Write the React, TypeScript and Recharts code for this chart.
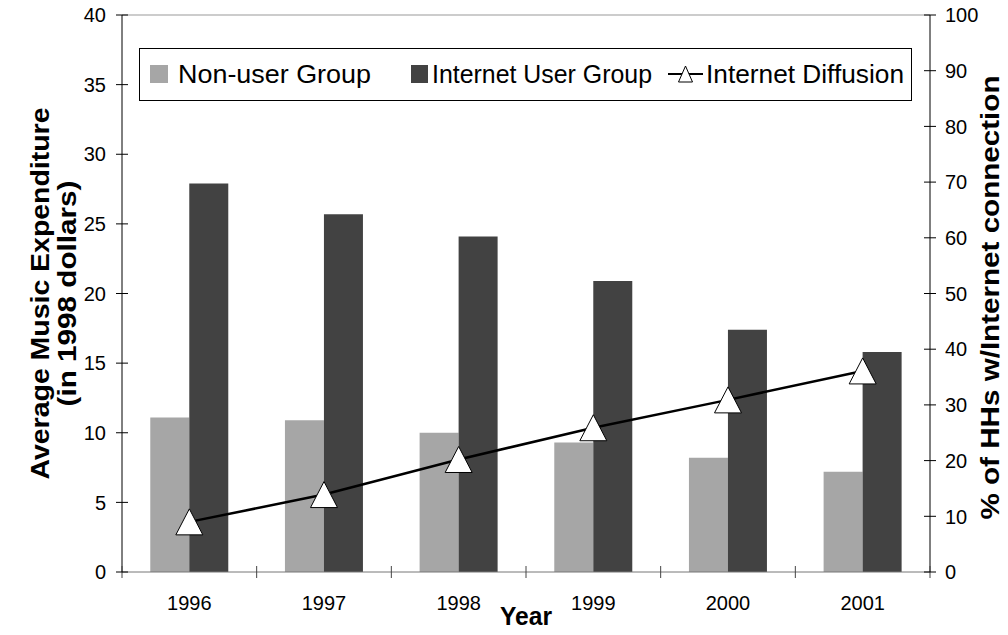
import { ComposedChart, Bar, Line, XAxis, YAxis, Legend, ReferenceLine } from 'recharts';

// values
const years = ['1996', '1997', '1998', '1999', '2000', '2001'];
const nonUserGroup = [11.1, 10.9, 10.0, 9.3, 8.2, 7.2];
const internetUserGroup = [27.9, 25.7, 24.1, 20.9, 17.4, 15.8];
const internetDiffusion = [9.0, 13.9, 20.2, 25.9, 30.9, 36.1];
const leftTicks = [0, 5, 10, 15, 20, 25, 30, 35, 40];
const rightTicks = [0, 10, 20, 30, 40, 50, 60, 70, 80, 90, 100];

const data = years.map((year, i) => ({
  year,
  nonUser: nonUserGroup[i],
  user: internetUserGroup[i],
  diffusion: internetDiffusion[i],
}));

const FONT = '"Liberation Sans", Arial, sans-serif';
const LIGHT = '#a6a6a6';
const DARK = '#424242';

const W = 1008;
const H = 635;
const MARGIN = { top: 15, right: 18, bottom: 33, left: 62 };
const Y_AXIS_W = 60;
const PLOT_W = W - MARGIN.left - MARGIN.right - 2 * Y_AXIS_W;
const BAND = PLOT_W / years.length;

const makeYTick = (side: 'left' | 'right') => (props: any) => {
  const { x, y, payload } = props;
  const ax = side === 'left' ? x + 8 : x - 8;
  const tx = side === 'left' ? ax - 16 : ax + 15;
  return (
    <g>
      <line x1={ax - 6} x2={ax + 6} y1={y} y2={y} stroke="#000" />
      <text
        x={tx}
        y={y}
        dy="0.36em"
        textAnchor={side === 'left' ? 'end' : 'start'}
        fontSize={20}
        fontFamily={FONT}
        fill="#000"
      >
        {payload.value}
      </text>
    </g>
  );
};

const XTick = (props: any) => {
  const { x, y, payload, index } = props;
  const ay = y - 8;
  const lx = x - BAND / 2;
  return (
    <g>
      <line x1={lx} x2={lx} y1={ay - 6} y2={ay + 6} stroke="#444" />
      {index === years.length - 1 && (
        <line x1={x + BAND / 2} x2={x + BAND / 2} y1={ay - 6} y2={ay + 6} stroke="#444" />
      )}
      <text x={x} y={ay + 38} textAnchor="middle" fontSize={20} fontFamily={FONT} fill="#000">
        {payload.value}
      </text>
    </g>
  );
};

const Triangle = (props: any) => {
  const { cx, cy } = props;
  if (cx == null || cy == null) return null;
  return (
    <path
      d={`M${cx},${cy - 13} L${cx + 13.5},${cy + 13} L${cx - 13.5},${cy + 13} Z`}
      fill="#fff"
      stroke="#000"
      strokeWidth={1}
    />
  );
};

// legend drawn as a small svg so each label can be fitted to the reference width
const legendText = { fontFamily: FONT, fontSize: 26, fill: '#000', lengthAdjust: 'spacingAndGlyphs' as const };

const LegendBox = () => (
  <svg width={773} height={53} style={{ display: 'block' }}>
    <rect x={0.5} y={0.5} width={772} height={52} fill="#fff" stroke="#000" />
    <rect x={11} y={17} width={18} height={18} fill={LIGHT} />
    <text x={39} y={35} textLength={193} {...legendText}>Non-user Group</text>
    <rect x={272} y={17} width={17} height={18} fill={DARK} />
    <text x={293} y={35} textLength={220} {...legendText}>Internet User Group</text>
    <line x1={529} x2={564} y1={26} y2={26} stroke="#000" strokeWidth={2} />
    <path d="M546.5,18 L553.5,34 L539.5,34 Z" fill="#fff" stroke="#000" strokeWidth={1} />
    <text x={567} y={35} textLength={198} {...legendText}>Internet Diffusion</text>
  </svg>
);

const titleStyle = {
  fontSize: 25,
  fontWeight: 700,
  fontFamily: FONT,
  fill: '#000',
  textAnchor: 'middle' as const,
  dominantBaseline: 'central' as const,
  lengthAdjust: 'spacingAndGlyphs' as const,
};

const leftTitle = (props: any) => {
  const { viewBox } = props;
  const cy = viewBox.y + viewBox.height / 2;
  return (
    <g>
      <text x={40} y={cy} transform={`rotate(-90 40 ${cy})`} textLength={372} {...titleStyle}>
        Average Music Expenditure
      </text>
      <text x={67} y={cy} transform={`rotate(-90 67 ${cy})`} textLength={226} {...titleStyle}>
        (in 1998 dollars)
      </text>
    </g>
  );
};

const rightTitle = (props: any) => {
  const { viewBox } = props;
  const cy = viewBox.y + viewBox.height / 2 + 4;
  return (
    <text x={990} y={cy} transform={`rotate(-90 990 ${cy})`} textLength={444} {...titleStyle}>
      % of HHs w/Internet connection
    </text>
  );
};

const xTitle = (props: any) => {
  const { viewBox } = props;
  return (
    <text
      x={viewBox.x + viewBox.width / 2}
      y={625}
      textAnchor="middle"
      fontSize={26}
      fontWeight={700}
      fontFamily={FONT}
      fill="#000"
      textLength={52}
      lengthAdjust="spacingAndGlyphs"
    >
      Year
    </text>
  );
};

export default function App() {
  return (
    <div style={{ position: 'absolute', left: 0, top: 0, background: '#fff' }}>
      <ComposedChart width={W} height={H} data={data} margin={MARGIN} barCategoryGap="21%" barGap={0}>
        <XAxis
          dataKey="year"
          height={30}
          axisLine={{ stroke: '#777' }}
          tickLine={false}
          tick={XTick}
          interval={0}
          label={{ content: xTitle }}
        />
        <YAxis
          yAxisId="left"
          orientation="left"
          width={Y_AXIS_W}
          domain={[0, 40]}
          ticks={leftTicks}
          interval={0}
          axisLine={{ stroke: '#000' }}
          tickLine={false}
          tick={makeYTick('left')}
          label={{ content: leftTitle }}
        />
        <YAxis
          yAxisId="right"
          orientation="right"
          width={Y_AXIS_W}
          domain={[0, 100]}
          ticks={rightTicks}
          interval={0}
          axisLine={{ stroke: '#000' }}
          tickLine={false}
          tick={makeYTick('right')}
          label={{ content: rightTitle }}
        />
        <ReferenceLine yAxisId="left" y={40} stroke="#999" />
        <Legend
          layout="horizontal"
          verticalAlign="middle"
          align="center"
          content={LegendBox}
          wrapperStyle={{ left: 139, top: 48, width: 773 }}
        />
        <Bar yAxisId="left" dataKey="nonUser" name="Non-user Group" fill={LIGHT} isAnimationActive={false} />
        <Bar yAxisId="left" dataKey="user" name="Internet User Group" fill={DARK} isAnimationActive={false} />
        <Line
          yAxisId="right"
          dataKey="diffusion"
          name="Internet Diffusion"
          type="linear"
          stroke="#000"
          strokeWidth={2.5}
          dot={(p: any) => <Triangle key={p.index} {...p} />}
          activeDot={false}
          isAnimationActive={false}
        />
      </ComposedChart>
    </div>
  );
}
